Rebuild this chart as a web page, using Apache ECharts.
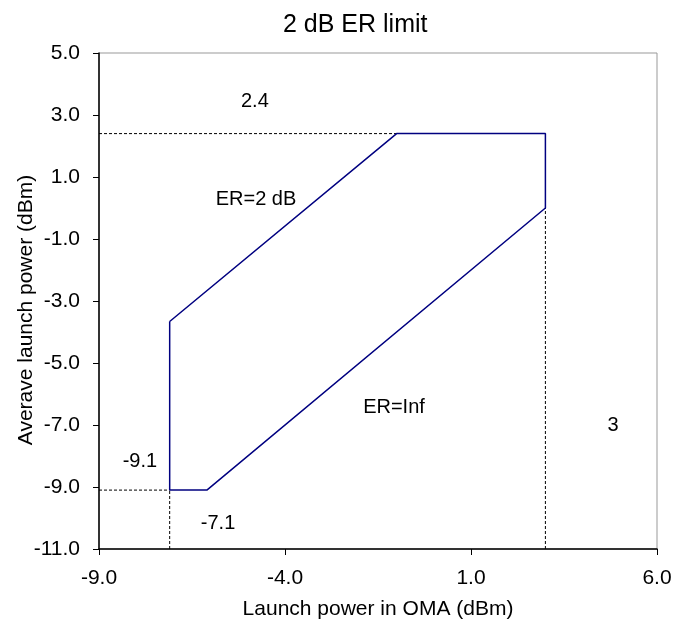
<!DOCTYPE html>
<html><head><meta charset="utf-8">
<script src="https://cdn.jsdelivr.net/npm/echarts@6/dist/echarts.min.js"></script>
<style>html,body{margin:0;padding:0;background:#fff}#c{width:673px;height:628px}</style>
</head><body><div id="c"></div>
<script>
// Region boundary (OMA dBm, average power dBm)
const boundaryX = [-7.1, -7.1, -6.1, 3.0, 3.0, -1.0, -7.1];
const boundaryY = [-3.66, -9.1, -9.1, 0.0, 2.4, 2.4, -3.66];
// Dashed guide lines
const guide1X = [-9, -1.0], guide1Y = [2.4, 2.4];
const guide2X = [-9, -7.1], guide2Y = [-9.1, -9.1];
const guide3X = [-7.1, -7.1], guide3Y = [-11, -9.1];
const guide4X = [3.0, 3.0], guide4Y = [-11, 0.0];
// Annotations
const noteText = ['2.4', 'ER=2 dB', 'ER=Inf', '3', '-9.1', '-7.1'];
const noteX = [-4.81, -4.78, -1.07, 4.82, -7.9, -5.8];
const noteY = [3.42, 0.26, -6.42, -7.0, -8.19, -10.19];
const xTicks = [-9, -4, 1, 6];
const yTicks = [-11, -9, -7, -5, -3, -1, 1, 3, 5];

const zip = (a, b) => a.map((v, i) => [v, b[i]]);
const font = 'Liberation Sans, Arial, sans-serif';
const dashed = (xs, ys) => ({
  type: 'line', data: zip(xs, ys), symbol: 'none', silent: true,
  lineStyle: { color: '#000', width: 1, type: [3, 2] }, z: 1
});
const chart = echarts.init(document.getElementById('c'));
chart.setOption({
  animation: false,
  title: { text: '2 dB ER limit', left: 278, top: 8,
    textStyle: { fontFamily: font, fontSize: 25, fontWeight: 'normal', color: '#000' } },
  grid: { left: 99, right: 16, top: 53, bottom: 79, show: true, borderColor: '#999', borderWidth: 1,
    outerBoundsMode: 'none', containLabel: false },
  xAxis: {
    type: 'value', min: xTicks[0], max: xTicks[xTicks.length - 1], interval: 5,
    name: 'Launch power in OMA (dBm)', nameLocation: 'middle', nameGap: 50, nameMoveOverlap: false,
    nameTextStyle: { fontFamily: font, fontSize: 21, color: '#000' },
    axisLine: { onZero: false, lineStyle: { color: '#000', width: 1.5 } },
    axisTick: { length: 6, lineStyle: { color: '#000' } },
    axisLabel: { fontFamily: font, fontSize: 21, color: '#000', margin: 19, formatter: v => v.toFixed(1) },
    splitLine: { show: false }
  },
  yAxis: {
    type: 'value', min: yTicks[0], max: yTicks[yTicks.length - 1], interval: 2,
    name: 'Averave launch power (dBm)', nameLocation: 'middle', nameGap: 62, nameMoveOverlap: false,
    nameTextStyle: { fontFamily: font, fontSize: 21, color: '#000', padding: [0, 18, 0, 0] },
    axisLine: { show: true, onZero: false, lineStyle: { color: '#000', width: 1.5 } },
    axisTick: { show: true, length: 6, lineStyle: { color: '#000' } },
    axisLabel: { fontFamily: font, fontSize: 21, color: '#000', margin: 19, formatter: v => v.toFixed(1) },
    splitLine: { show: false }
  },
  series: [
    dashed(guide1X, guide1Y), dashed(guide2X, guide2Y),
    dashed(guide3X, guide3Y), dashed(guide4X, guide4Y),
    { type: 'line', data: zip(boundaryX, boundaryY), symbol: 'none', silent: true,
      lineStyle: { color: '#000080', width: 1.5 }, z: 3 },
    { type: 'scatter', symbolSize: 0, silent: true, itemStyle: { opacity: 1 },
      data: noteText.map((t, i) => ({ value: [noteX[i], noteY[i]], name: t })),
      label: { show: true, position: 'inside', formatter: p => p.name, opacity: 1,
        fontFamily: font, fontSize: 20, color: '#000' } }
  ]
});
</script></body></html>
